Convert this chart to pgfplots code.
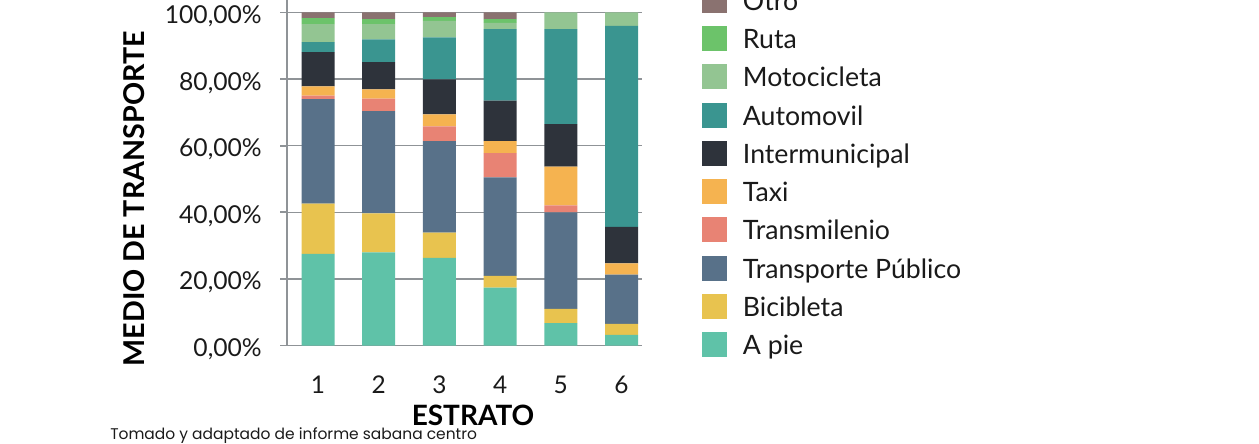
\documentclass[border=0pt]{standalone}
\usepackage{pgfplots}
\usepackage{pgfplotstable}
\pgfplotsset{compat=1.18}
\usepackage{fontspec}
\setmainfont{Lato}
\newfontfamily\pop{Poppins}

\definecolor{cOtro}{HTML}{8A7270}
\definecolor{cRuta}{HTML}{6CC36A}
\definecolor{cMoto}{HTML}{93C592}
\definecolor{cAuto}{HTML}{3A9590}
\definecolor{cInter}{HTML}{2E333B}
\definecolor{cTaxi}{HTML}{F5B350}
\definecolor{cTM}{HTML}{E88374}
\definecolor{cTP}{HTML}{587189}
\definecolor{cBici}{HTML}{E8C34F}
\definecolor{cPie}{HTML}{5FC2A8}
\definecolor{gridc}{HTML}{8F9397}
\definecolor{txt}{HTML}{1A1A1A}

\pgfplotstableread{
x  pie  bici tp   tm  taxi inter auto moto ruta otro
1  27.5 15.1 31.4 1.0 2.8  10.3  3.0  5.4  1.8  1.7
2  28.0 11.7 30.7 3.7 2.8  8.2   6.8  4.6  1.5  2.0
3  26.3 7.6  27.5 4.4 3.6  10.5  12.6 5.0  1.1  1.4
4  17.4 3.5  29.6 7.3 3.6  12.1  21.5 1.9  1.1  2.0
5  6.7  4.3  29.0 2.1 11.6 12.8  28.5 5.0  0    0
6  3.2  3.3  14.8 0   3.4  10.9  60.4 4.0  0    0
}\datatable

\pgfplotsset{sqlegend/.style={legend image code/.code={\fill[##1] (0pt,-9.375pt) rectangle (18.75pt,9.375pt);}}}

\begin{document}
\begin{tikzpicture}
\useasboundingbox (0,0) rectangle (944.25pt,332.25pt);
\clip (0,0) rectangle (944.25pt,332.25pt);
\begin{axis}[
  at={(215.25pt,73.125pt)}, anchor=south west,
  scale only axis,
  width=265.875pt, height=262.2375pt,
  xmin=0.4893, xmax=6.3295,
  ymin=0, ymax=105,
  ybar stacked, bar width=24.75pt,
  axis x line*=bottom, axis y line*=left,
  axis line style={gridc, line width=1.4pt, -},
  xtick={1,2,3,4,5,6},
  xticklabels={1,2,3,4,5,6},
  ytick={0,20,40,60,80,100},
  yticklabels={{0,00\%},{20,00\%},{40,00\%},{60,00\%},{80,00\%},{100,00\%}},
  ymajorgrids,
  grid style={gridc, line width=1.1pt},
  major x tick style={draw=none},
  major y tick style={gridc, line width=1.4pt},
  tick align=outside, major tick length=5.25pt,
  yticklabel style={font=\fontsize{18.5}{20}\selectfont, text=txt, anchor=east, inner sep=0pt, xshift=-13.5pt, yshift=-2.8pt},
  xticklabel style={font=\fontsize{18.3}{20}\selectfont, text=txt, anchor=north, inner sep=0pt, yshift=-17.3pt},
  every axis y label/.style={at={(rel axis cs:-0.4316,0.4197)}, rotate=90, anchor=center, font=\fontsize{21.5}{22}\selectfont\bfseries, text=black},
  every axis x label/.style={at={(rel axis cs:0.5247,-0.1988)}, anchor=center, font=\fontsize{21}{22}\selectfont\bfseries, text=black},
  ylabel={MEDIO DE TRANSPORTE},
  xlabel={ESTRATO},
  every axis plot post/.append style={sqlegend},
  reverse legend,
  legend cell align=left,
  legend style={at={(rel axis cs:1.1706,1.0231)}, anchor=north west, draw=none, fill=none,
    inner sep=0pt, outer sep=0pt, row sep=9.94pt, column sep=12pt,
    font=\fontsize{20}{22}\selectfont,
    nodes={inner sep=0pt, text height=15pt, text depth=0pt, text=txt}},
]
\addplot[fill=cPie, draw=none] table[x=x, y=pie] {\datatable};
\addlegendentry{A pie}
\addplot[fill=cBici, draw=none] table[x=x, y=bici] {\datatable};
\addlegendentry{Bicibleta}
\addplot[fill=cTP, draw=none] table[x=x, y=tp] {\datatable};
\addlegendentry{Transporte Público}
\addplot[fill=cTM, draw=none] table[x=x, y=tm] {\datatable};
\addlegendentry{Transmilenio}
\addplot[fill=cTaxi, draw=none] table[x=x, y=taxi] {\datatable};
\addlegendentry{Taxi}
\addplot[fill=cInter, draw=none] table[x=x, y=inter] {\datatable};
\addlegendentry{Intermunicipal}
\addplot[fill=cAuto, draw=none] table[x=x, y=auto] {\datatable};
\addlegendentry{Automovil}
\addplot[fill=cMoto, draw=none] table[x=x, y=moto] {\datatable};
\addlegendentry{Motocicleta}
\addplot[fill=cRuta, draw=none] table[x=x, y=ruta] {\datatable};
\addlegendentry{Ruta}
\addplot[fill=cOtro, draw=none] table[x=x, y=otro] {\datatable};
\addlegendentry{Otro}
\end{axis}
\node[anchor=base west, inner sep=0pt, text=txt, font=\pop\fontsize{11.6}{12}\selectfont] at (82.5pt,3pt) {Tomado y adaptado de informe sabana centro};
\end{tikzpicture}
\end{document}
